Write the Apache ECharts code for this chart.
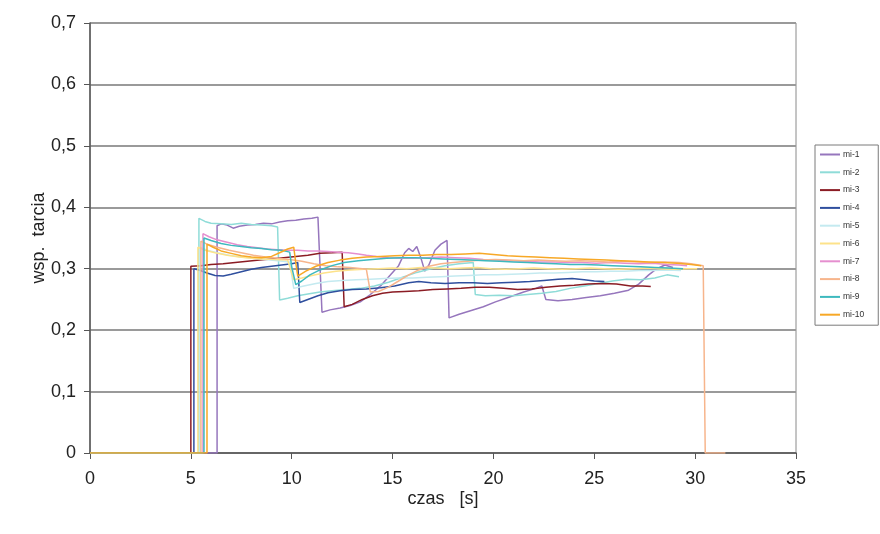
<!DOCTYPE html>
<html>
<head>
<meta charset="utf-8">
<script src="https://cdn.jsdelivr.net/npm/echarts@6/dist/echarts.min.js"></script>
<style>
  html, body { margin: 0; padding: 0; background: #fff; }
  #chart { width: 880px; height: 534px; }
</style>
</head>
<body>
<div id="chart"></div>
<script>
// Friction coefficient runs: [time s, coefficient]
const seriesNames = ['mi-1', 'mi-2', 'mi-3', 'mi-4', 'mi-5', 'mi-6', 'mi-7', 'mi-8', 'mi-9', 'mi-10'];

const mi1 = [[0,0],[6.3,0],[6.3,0.37],[6.5,0.373],[6.8,0.371],[7.1,0.366],[7.4,0.369],[7.8,0.371],[8.2,0.372],[8.6,0.374],[9.0,0.373],[9.4,0.376],[9.8,0.378],[10.2,0.379],[10.6,0.381],[11.0,0.382],[11.3,0.384],[11.5,0.229],[11.9,0.233],[12.4,0.236],[12.9,0.24],[13.4,0.246],[13.9,0.258],[14.4,0.272],[14.9,0.29],[15.3,0.305],[15.6,0.326],[15.8,0.333],[16.0,0.328],[16.2,0.336],[16.4,0.318],[16.6,0.296],[16.8,0.306],[17.1,0.33],[17.4,0.34],[17.7,0.346],[17.8,0.22],[18.3,0.226],[18.9,0.232],[19.5,0.238],[20.1,0.246],[20.8,0.254],[21.5,0.262],[22.1,0.268],[22.4,0.272],[22.6,0.25],[23.2,0.248],[23.9,0.25],[24.6,0.253],[25.3,0.256],[26.0,0.26],[26.7,0.265],[27.2,0.275],[27.7,0.29],[28.1,0.3],[28.5,0.306],[28.9,0.302]];

const mi2 = [[0,0],[5.4,0],[5.4,0.382],[5.7,0.377],[6.0,0.374],[6.5,0.373],[7.0,0.372],[7.5,0.374],[8.0,0.372],[8.5,0.371],[9.0,0.37],[9.3,0.368],[9.4,0.249],[9.8,0.252],[10.3,0.256],[10.8,0.259],[11.4,0.262],[12.0,0.264],[12.7,0.266],[13.4,0.268],[14.1,0.272],[14.8,0.278],[15.5,0.286],[16.2,0.294],[16.9,0.3],[17.6,0.305],[18.3,0.308],[19.0,0.31],[19.1,0.258],[19.6,0.256],[20.3,0.257],[21.0,0.256],[21.7,0.258],[22.4,0.26],[23.1,0.263],[23.8,0.268],[24.5,0.272],[25.2,0.276],[25.9,0.28],[26.6,0.283],[27.3,0.282],[28.0,0.285],[28.6,0.29],[29.2,0.287]];

const mi3 = [[0,0],[5.0,0],[5.0,0.304],[5.5,0.305],[6.0,0.307],[6.6,0.308],[7.2,0.31],[7.8,0.312],[8.4,0.314],[9.0,0.316],[9.6,0.318],[10.2,0.32],[10.8,0.322],[11.4,0.325],[12.0,0.326],[12.5,0.327],[12.6,0.238],[13.0,0.242],[13.5,0.25],[14.0,0.256],[14.5,0.26],[15.0,0.262],[15.6,0.263],[16.3,0.264],[17.0,0.266],[17.7,0.267],[18.4,0.268],[19.1,0.27],[19.8,0.27],[20.5,0.268],[21.2,0.266],[21.9,0.267],[22.6,0.27],[23.3,0.272],[24.0,0.273],[24.7,0.275],[25.4,0.276],[26.1,0.275],[26.8,0.272],[27.4,0.272],[27.8,0.271]];

const mi4 = [[0,0],[5.15,0],[5.15,0.3],[5.4,0.298],[5.8,0.293],[6.2,0.289],[6.6,0.288],[7.0,0.291],[7.5,0.295],[8.0,0.299],[8.5,0.302],[9.0,0.304],[9.5,0.306],[10.0,0.308],[10.3,0.31],[10.4,0.245],[10.8,0.25],[11.3,0.256],[11.8,0.261],[12.4,0.264],[13.0,0.266],[13.7,0.267],[14.4,0.269],[15.1,0.272],[15.8,0.277],[16.3,0.279],[16.9,0.277],[17.6,0.276],[18.3,0.277],[19.0,0.277],[19.7,0.276],[20.4,0.277],[21.1,0.278],[21.8,0.279],[22.5,0.281],[23.2,0.283],[23.9,0.284],[24.5,0.282],[25.0,0.28],[25.5,0.279]];

const mi5 = [[0,0],[5.45,0],[5.45,0.335],[5.8,0.33],[6.3,0.326],[6.9,0.322],[7.5,0.319],[8.1,0.317],[8.7,0.315],[9.3,0.313],[9.9,0.311],[10.1,0.268],[10.6,0.272],[11.2,0.276],[11.8,0.279],[12.5,0.281],[13.2,0.282],[13.9,0.283],[14.6,0.284],[15.3,0.285],[16.0,0.285],[16.7,0.286],[17.4,0.287],[18.1,0.288],[18.8,0.289],[19.5,0.29],[20.2,0.29],[20.9,0.291],[21.6,0.292],[22.3,0.293],[23.0,0.293],[23.7,0.294],[24.4,0.295],[25.1,0.295],[25.8,0.296],[26.5,0.296],[27.2,0.297],[27.9,0.297],[28.6,0.298],[29.3,0.297]];

const mi6 = [[0,0],[5.35,0],[5.35,0.335],[5.7,0.33],[6.2,0.326],[6.8,0.322],[7.4,0.319],[8.0,0.317],[8.6,0.316],[9.2,0.315],[9.8,0.314],[10.1,0.282],[10.5,0.285],[11.0,0.289],[11.6,0.293],[12.2,0.296],[12.9,0.298],[13.6,0.299],[14.3,0.3],[15.0,0.301],[15.7,0.3],[16.4,0.302],[17.1,0.301],[17.8,0.3],[18.5,0.301],[19.2,0.302],[19.9,0.3],[20.6,0.299],[21.3,0.3],[22.0,0.301],[22.7,0.3],[23.4,0.299],[24.1,0.3],[24.8,0.301],[25.5,0.3],[26.2,0.299],[26.9,0.3],[27.6,0.301],[28.3,0.3],[29.0,0.299],[29.6,0.3],[30.1,0.3]];

const mi7 = [[0,0],[5.6,0],[5.6,0.357],[5.9,0.352],[6.3,0.347],[6.8,0.343],[7.3,0.339],[7.8,0.336],[8.3,0.334],[8.8,0.332],[9.3,0.331],[9.8,0.33],[10.3,0.33],[10.8,0.329],[11.3,0.329],[11.8,0.328],[12.3,0.327],[12.8,0.326],[13.3,0.324],[13.7,0.322],[14.2,0.32],[14.8,0.318],[15.4,0.317],[16.0,0.317],[16.7,0.318],[17.4,0.319],[18.1,0.318],[18.8,0.317],[19.5,0.315],[20.2,0.314],[20.9,0.313],[21.6,0.312],[22.3,0.311],[23.0,0.311],[23.7,0.31],[24.4,0.31],[25.1,0.309],[25.8,0.31],[26.5,0.309],[27.2,0.308],[27.9,0.309],[28.6,0.307],[29.2,0.306],[29.6,0.305]];

const mi8 = [[0,0],[5.5,0],[5.5,0.345],[5.8,0.34],[6.3,0.335],[6.9,0.33],[7.5,0.326],[8.1,0.322],[8.7,0.319],[9.3,0.317],[9.9,0.315],[10.5,0.312],[11.1,0.308],[11.7,0.305],[12.3,0.303],[12.9,0.302],[13.5,0.3],[13.7,0.299],[13.9,0.262],[14.3,0.263],[14.8,0.27],[15.3,0.28],[15.8,0.29],[16.3,0.298],[16.8,0.304],[17.4,0.308],[18.0,0.31],[18.7,0.312],[19.4,0.314],[20.1,0.315],[20.8,0.314],[21.5,0.313],[22.2,0.314],[22.9,0.313],[23.6,0.312],[24.3,0.313],[25.0,0.312],[25.7,0.311],[26.4,0.312],[27.1,0.311],[27.8,0.31],[28.5,0.311],[29.2,0.31],[29.8,0.308],[30.4,0.305],[30.5,0],[31.5,0]];

const mi9 = [[0,0],[5.65,0],[5.65,0.35],[6.0,0.346],[6.5,0.341],[7.0,0.338],[7.5,0.336],[8.0,0.334],[8.5,0.333],[9.0,0.331],[9.5,0.33],[9.9,0.327],[10.0,0.303],[10.2,0.274],[10.5,0.28],[10.9,0.29],[11.4,0.298],[12.0,0.305],[12.6,0.31],[13.3,0.313],[14.0,0.315],[14.7,0.317],[15.4,0.318],[16.1,0.318],[16.8,0.317],[17.5,0.316],[18.2,0.315],[18.9,0.314],[19.6,0.313],[20.3,0.312],[21.0,0.311],[21.7,0.31],[22.4,0.309],[23.1,0.308],[23.8,0.307],[24.5,0.307],[25.2,0.306],[25.9,0.305],[26.6,0.304],[27.3,0.303],[28.0,0.302],[28.7,0.301],[29.4,0.3]];

const mi10 = [[0,0],[5.8,0],[5.8,0.34],[6.1,0.335],[6.5,0.329],[7.0,0.325],[7.5,0.321],[8.0,0.319],[8.5,0.318],[9.0,0.32],[9.4,0.326],[9.8,0.332],[10.1,0.335],[10.2,0.31],[10.3,0.288],[10.7,0.296],[11.2,0.304],[11.8,0.31],[12.4,0.314],[13.0,0.317],[13.7,0.319],[14.4,0.32],[15.1,0.321],[15.8,0.322],[16.5,0.322],[17.2,0.323],[17.9,0.323],[18.6,0.324],[19.3,0.325],[20.0,0.323],[20.7,0.321],[21.4,0.32],[22.1,0.319],[22.8,0.318],[23.5,0.317],[24.2,0.316],[24.9,0.315],[25.6,0.314],[26.3,0.313],[27.0,0.312],[27.7,0.311],[28.4,0.31],[29.1,0.309],[29.8,0.307],[30.3,0.305]];

const seriesData = [mi1, mi2, mi3, mi4, mi5, mi6, mi7, mi8, mi9, mi10];
const seriesColors = ['#9676bd', '#8fdcd8', '#8b1c24', '#2f4f9e', '#c4eaf0', '#fde28a', '#e58fcf', '#f7b58c', '#3db9be', '#f7a826'];

const xAxisRange = { min: 0, max: 35, step: 5 };
const yAxisRange = { min: 0, max: 0.7, step: 0.1 };

const FONT = '"Liberation Sans", Arial, sans-serif';

const chart = echarts.init(document.getElementById('chart'), null, { renderer: 'canvas' });

chart.setOption({
  animation: false,
  backgroundColor: '#ffffff',
  textStyle: { fontFamily: FONT },
  grid: {
    left: 90, top: 23, right: 84, bottom: 81,
    show: true, borderColor: '#8a8a8a', borderWidth: 1, backgroundColor: 'transparent'
  },
  legend: {
    orient: 'vertical',
    left: 815, top: 145,
    data: seriesNames,
    icon: 'rect',
    itemWidth: 20, itemHeight: 2,
    itemGap: 8.8,
    padding: [5, 14, 6, 5],
    borderColor: '#7a7a7a', borderWidth: 1,
    textStyle: { fontSize: 8.5, color: '#333', fontFamily: FONT, padding: [0, 0, 0, -2] }
  },
  xAxis: {
    type: 'value',
    min: xAxisRange.min, max: xAxisRange.max, interval: xAxisRange.step,
    name: 'czas   [s]',
    nameLocation: 'middle', nameGap: 37, nameMoveOverlap: false,
    nameTextStyle: { fontSize: 18, color: '#222', fontFamily: FONT },
    axisLine: { show: true, onZero: false, lineStyle: { color: '#555', width: 1.5 } },
    axisTick: { show: true, length: 6, lineStyle: { color: '#555', width: 1 } },
    axisLabel: { fontSize: 18, color: '#222', margin: 17, fontFamily: FONT },
    splitLine: { show: false }
  },
  yAxis: {
    type: 'value',
    min: yAxisRange.min, max: yAxisRange.max, interval: yAxisRange.step,
    name: 'wsp.  tarcia',
    nameLocation: 'middle', nameGap: 42, nameMoveOverlap: false,
    nameTextStyle: { fontSize: 18, color: '#222', fontFamily: FONT },
    axisLine: { show: true, lineStyle: { color: '#555', width: 1.5 } },
    axisTick: { show: true, length: 6, lineStyle: { color: '#555', width: 1 } },
    axisLabel: {
      fontSize: 18, color: '#222', margin: 14, fontFamily: FONT,
      formatter: v => (Math.round(v * 10) / 10).toString().replace('.', ',')
    },
    splitLine: { show: true, lineStyle: { color: '#9a9a9a', width: 2 } }
  },
  series: seriesNames.map((name, i) => ({
    name,
    type: 'line',
    data: seriesData[i],
    showSymbol: false,
    symbol: 'none',
    lineStyle: { color: seriesColors[i], width: 1.5 },
    itemStyle: { color: seriesColors[i] },
    emphasis: { disabled: true },
    z: 2 + i
  }))
});
</script>
</body>
</html>
